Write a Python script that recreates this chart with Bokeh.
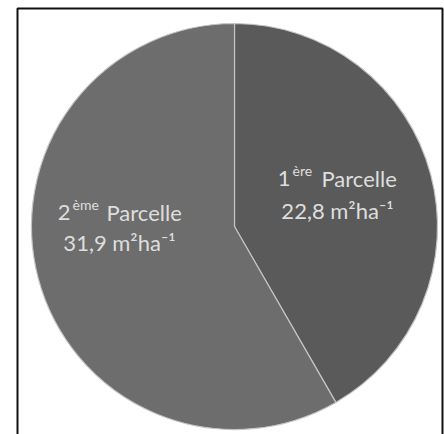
import math
from bokeh.plotting import figure
from bokeh.models import Range1d, ColumnDataSource
from bokeh.core.properties import value
from bokeh.embed import file_html
from bokeh.resources import INLINE

# ---- data ----
parcel_numbers = ["1", "2"]
parcel_suffixes = ["ère", "ème"]
parcel_word = "Parcelle"
basal_area = [22.8, 31.9]          # m2 ha-1
unit_text = "m²ha⁻¹"
slice_colors = ["#5a5a5a", "#6d6d6d"]

FONT = "Lato"
TEXT_COLOR = "#dedede"
BIG = 22
SMALL = 14

W, H = 444, 434
# data units == page pixels (y measured upward from the page bottom)
p = figure(width=W, height=H, output_backend="svg", toolbar_location=None,
           x_range=Range1d(0, W), y_range=Range1d(0, H),
           min_border_left=0, min_border_right=0, min_border_top=0, min_border_bottom=0,
           x_axis_location=None, y_axis_location=None)
p.grid.visible = False
p.background_fill_color = "white"
p.border_fill_color = "white"
p.outline_line_color = None

# frame border (left, top, right; bottom is cut off in the reference)
p.line(x=[17, 17, 442, 442], y=[0, 426, 426, 0], line_color="#111111", line_width=2)

# pie geometry
cx, cy, r = 234, 208, 203
total = sum(basal_area)
angles = [v / total * 2 * math.pi for v in basal_area]
starts, ends = [], []
end = math.pi / 2          # slice 1 starts at 12 o'clock, goes clockwise
for a in angles:
    starts.append(end - a)
    ends.append(end)
    end = end - a

src = ColumnDataSource(dict(x=[cx] * 2, y=[cy] * 2, start=starts, end=ends, color=slice_colors))
p.wedge(x="x", y="y", radius=r, start_angle="start", end_angle="end", source=src,
        fill_color="color", line_color="#c4c4c4", line_width=1.2)

def fmt(v):
    return f"{v:.1f}".replace(".", ",")

# label anchors: (number right edge, baseline), (suffix left, baseline), (word left), (line-2 centre, baseline)
layouts = [
    dict(num=(290, 256), suf=(292, 264), word=(321, 256), l2=(337, 224)),
    dict(num=(70, 222), suf=(72, 230), word=(106, 222), l2=(119, 192)),
]

def add_text(xs, ys, texts, size, align):
    p.text(x=xs, y=ys, text=texts, text_font=value(FONT), text_font_size=f"{size}px",
           text_color=TEXT_COLOR, text_align=align, text_baseline="alphabetic")

add_text([l["num"][0] for l in layouts], [l["num"][1] for l in layouts], parcel_numbers, BIG, "right")
add_text([l["suf"][0] for l in layouts], [l["suf"][1] for l in layouts], parcel_suffixes, SMALL, "left")
add_text([l["word"][0] for l in layouts], [l["word"][1] for l in layouts], [parcel_word] * 2, BIG, "left")
add_text([l["l2"][0] for l in layouts], [l["l2"][1] for l in layouts],
         [fmt(v) + " " + unit_text for v in basal_area], BIG, "center")

open("out.html", "w").write(file_html(p, INLINE))
